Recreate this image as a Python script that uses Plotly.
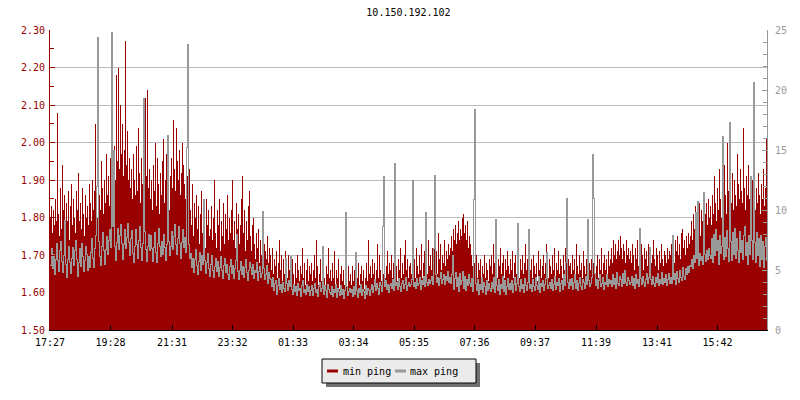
import pandas as pd
import plotly.graph_objects as go

title_text = "10.150.192.102"
series_names = ["min ping", "max ping"]
series_colors = ["#990000", "#999999"]

start_time = "2024-05-01 17:27"
sample_minutes = 2

# min ping (ms, left axis), one value per 2 minutes
min_ping = [
    1.80, 1.83, 1.76, 1.82, 1.78, 1.85, 1.79, 2.08, 1.81, 1.75, 1.88, 1.77, 1.94, 1.82, 1.86, 1.76, 1.84, 1.79, 1.87, 1.74,
    1.83, 1.89, 1.78, 1.85, 1.80, 1.76, 1.87, 1.82, 1.92, 1.79, 1.84, 1.77, 1.88, 1.81, 1.75, 1.86, 1.80, 1.83, 1.78, 1.89,
    1.84, 1.79, 1.90, 1.82, 1.87, 2.05, 1.85, 1.80, 1.93, 1.86, 1.82, 1.95, 1.88, 1.81, 1.90, 1.84, 1.97, 1.86, 1.91, 1.83,
    1.96, 1.89, 2.02, 1.92, 1.99, 1.90, 2.18, 1.95, 2.20, 1.93, 2.10, 1.97, 2.05, 1.91, 1.98, 2.27, 1.94, 2.03, 1.90, 1.96,
    1.88, 1.93, 1.85, 1.97, 1.90, 1.86, 1.99, 1.87, 2.04, 1.92, 1.84, 1.96, 1.89, 1.94, 1.86, 2.12, 1.91, 2.14, 1.88, 1.93,
    1.85, 1.90, 1.82, 1.94, 1.87, 2.00, 1.83, 1.96, 1.89, 1.81, 1.92, 1.86, 1.95, 2.01, 1.84, 1.90, 1.97, 1.85, 1.88, 1.82,
    1.91, 1.96, 1.88, 2.06, 1.93, 1.87, 2.04, 1.95, 1.90, 1.98, 1.86, 1.92, 2.00, 1.94, 1.89, 1.85, 1.97, 1.91, 1.86, 1.93,
    1.82, 1.78, 1.89, 1.75, 1.84, 1.80, 1.86, 1.77, 1.83, 1.73, 1.81, 1.87, 1.76, 1.84, 1.79, 1.72, 1.85, 1.78, 1.82, 1.75,
    1.77, 1.83, 1.74, 1.80, 1.90, 1.76, 1.72, 1.82, 1.78, 1.85, 1.71, 1.79, 1.75, 1.84, 1.73, 1.81, 1.77, 1.86, 1.74, 1.80,
    1.76, 1.82, 1.90, 1.74, 1.79, 1.72, 1.84, 1.77, 1.81, 1.73, 1.78, 1.85, 1.91, 1.76, 1.82, 1.71, 1.79, 1.74, 1.83, 1.87,
    1.75, 1.71, 1.78, 1.80, 1.73, 1.69, 1.76, 1.72, 1.77, 1.68, 1.74, 1.70, 1.76, 1.67, 1.73, 1.71, 1.69, 1.75, 1.68, 1.72,
    1.70, 1.66, 1.72, 1.65, 1.69, 1.67, 1.71, 1.64, 1.68, 1.74, 1.66, 1.70, 1.63, 1.69, 1.65, 1.71, 1.67, 1.64, 1.70, 1.66,
    1.67, 1.63, 1.69, 1.65, 1.62, 1.68, 1.64, 1.70, 1.66, 1.63, 1.67, 1.65, 1.72, 1.64, 1.68, 1.62, 1.66, 1.69, 1.63, 1.67,
    1.65, 1.68, 1.63, 1.66, 1.70, 1.64, 1.74, 1.67, 1.62, 1.65, 1.69, 1.63, 1.66, 1.68, 1.64, 1.62, 1.67, 1.65, 1.72, 1.64,
    1.66, 1.63, 1.68, 1.64, 1.71, 1.62, 1.66, 1.64, 1.69, 1.61, 1.65, 1.67, 1.63, 1.66, 1.62, 1.68, 1.64, 1.61, 1.67, 1.63,
    1.65, 1.62, 1.67, 1.63, 1.66, 1.70, 1.61, 1.64, 1.68, 1.62, 1.65, 1.67, 1.63, 1.66, 1.61, 1.64, 1.68, 1.63, 1.74, 1.65,
    1.67, 1.64, 1.69, 1.65, 1.68, 1.63, 1.66, 1.73, 1.64, 1.70, 1.66, 1.63, 1.68, 1.65, 1.69, 1.64, 1.67, 1.71, 1.65, 1.68,
    1.66, 1.70, 1.64, 1.68, 1.65, 1.71, 1.67, 1.63, 1.69, 1.66, 1.72, 1.64, 1.68, 1.65, 1.70, 1.74, 1.66, 1.69, 1.64, 1.67,
    1.68, 1.65, 1.71, 1.66, 1.69, 1.64, 1.72, 1.67, 1.65, 1.70, 1.66, 1.73, 1.64, 1.68, 1.71, 1.66, 1.69, 1.65, 1.74, 1.67,
    1.70, 1.66, 1.72, 1.68, 1.75, 1.67, 1.71, 1.65, 1.76, 1.69, 1.73, 1.66, 1.70, 1.68, 1.74, 1.67, 1.71, 1.69, 1.73, 1.70,
    1.72, 1.75, 1.71, 1.77, 1.74, 1.78, 1.73, 1.76, 1.79, 1.74, 1.77, 1.75, 1.80, 1.81, 1.76, 1.78, 1.74, 1.79, 1.72, 1.75,
    1.73, 1.70, 1.67, 1.74, 1.68, 1.65, 1.70, 1.64, 1.68, 1.66, 1.69, 1.63, 1.67, 1.65, 1.70, 1.64, 1.68, 1.66, 1.63, 1.69,
    1.67, 1.70, 1.65, 1.73, 1.68, 1.66, 1.71, 1.64, 1.69, 1.67, 1.72, 1.65, 1.68, 1.70, 1.64, 1.69, 1.66, 1.71, 1.67, 1.65,
    1.69, 1.66, 1.71, 1.64, 1.68, 1.70, 1.65, 1.72, 1.67, 1.64, 1.69, 1.66, 1.70, 1.65, 1.68, 1.73, 1.66, 1.69, 1.64, 1.67,
    1.66, 1.69, 1.64, 1.70, 1.67, 1.65, 1.68, 1.63, 1.71, 1.66, 1.69, 1.64, 1.67, 1.70, 1.65, 1.68, 1.73, 1.66, 1.64, 1.69,
    1.67, 1.65, 1.70, 1.66, 1.72, 1.64, 1.68, 1.66, 1.71, 1.65, 1.69, 1.67, 1.64, 1.70, 1.66, 1.72, 1.68, 1.65, 1.69, 1.67,
    1.68, 1.65, 1.70, 1.66, 1.69, 1.64, 1.73, 1.67, 1.65, 1.70, 1.66, 1.68, 1.64, 1.71, 1.67, 1.65, 1.69, 1.66, 1.70, 1.68,
    1.66, 1.69, 1.64, 1.68, 1.71, 1.65, 1.67, 1.70, 1.64, 1.69, 1.66, 1.72, 1.65, 1.68, 1.70, 1.66, 1.69, 1.65, 1.71, 1.67,
    1.69, 1.72, 1.68, 1.74, 1.70, 1.73, 1.69, 1.71, 1.74, 1.70, 1.75, 1.72, 1.69, 1.73, 1.71, 1.68, 1.74, 1.70, 1.72, 1.69,
    1.71, 1.68, 1.73, 1.70, 1.66, 1.72, 1.69, 1.74, 1.67, 1.71, 1.68, 1.73, 1.70, 1.66, 1.72, 1.69, 1.71, 1.67, 1.73, 1.70,
    1.72, 1.68, 1.70, 1.74, 1.69, 1.67, 1.72, 1.70, 1.66, 1.71, 1.68, 1.73, 1.69, 1.67, 1.71, 1.70, 1.68, 1.72, 1.69, 1.71,
    1.70, 1.73, 1.69, 1.72, 1.68, 1.74, 1.71, 1.75, 1.70, 1.73, 1.69, 1.76, 1.77, 1.72, 1.74, 1.70, 1.75, 1.72, 1.76, 1.73,
    1.75, 1.79, 1.74, 1.81, 1.77, 1.83, 1.76, 1.80, 1.78, 1.84, 1.75, 1.82, 1.79, 1.86, 1.77, 1.81, 1.84, 1.78, 1.85, 1.80,
    1.83, 1.78, 1.86, 1.81, 1.91, 1.84, 1.79, 1.88, 1.82, 1.93, 1.85, 1.80, 1.89, 1.84, 1.94, 1.86, 1.81, 2.00, 1.87, 1.83,
    1.88, 1.84, 1.92, 1.82, 1.90, 1.86, 1.83, 1.97, 1.89, 1.85, 1.93, 1.87, 1.84, 2.04, 1.88, 1.82, 1.91, 1.86, 1.94, 1.85,
    1.87, 1.83, 1.90, 1.85, 1.99, 1.82, 1.88, 1.84, 1.92, 1.86, 1.81, 1.89, 1.85, 1.93, 1.83, 1.88, 2.01, 1.86,
]

# max ping (ms, right axis), one value per 2 minutes
max_ping = [
    5.4, 6.8, 5.1, 6.3, 4.6, 5.9, 7.2, 5.8, 4.9, 6.6, 7.4, 5.7, 4.8, 6.2, 9.1, 5.5, 4.4, 5.9, 7.0, 5.6,
    4.7, 6.0, 6.9, 5.4, 6.6, 7.5, 5.9, 4.5, 5.6, 6.8, 5.3, 7.2, 6.1, 4.9, 5.8, 7.0, 6.3, 5.0, 6.1, 5.2,
    6.5, 7.6, 6.0, 5.2, 6.8, 7.9, 12.0, 24.4, 7.4, 6.1, 5.4, 7.0, 8.1, 6.6, 5.5, 6.7, 7.8, 6.3, 7.5, 8.4,
    6.9, 24.8, 8.6, 15.0, 7.0, 5.8, 7.3, 8.5, 6.7, 7.9, 8.8, 7.2, 5.9, 7.1, 8.4, 6.8, 7.7, 8.9, 7.3, 6.2,
    7.6, 8.3, 6.4, 5.6, 7.0, 8.4, 7.1, 6.0, 7.5, 8.6, 6.9, 5.8, 7.2, 19.3, 8.2, 6.7, 5.7, 7.0, 8.0, 6.6,
    7.9, 6.8, 5.7, 6.9, 8.1, 6.5, 5.6, 7.2, 8.5, 7.0, 6.1, 7.4, 6.3, 8.0, 6.9, 5.8, 7.1, 16.2, 7.4, 6.2,
    7.0, 8.2, 6.7, 7.8, 8.8, 7.1, 6.3, 7.6, 8.6, 7.2, 6.0, 7.3, 8.4, 6.9, 7.7, 6.5, 15.2, 23.8, 7.1, 6.0,
    6.4, 5.2, 6.0, 4.8, 5.9, 6.7, 5.4, 4.6, 5.7, 6.5, 5.0, 6.2, 5.5, 10.9, 5.8, 4.7, 5.6, 6.4, 5.1, 4.5,
    5.5, 6.2, 5.0, 4.4, 5.3, 6.0, 4.9, 5.7, 4.5, 5.2, 6.1, 5.0, 4.3, 5.4, 6.0, 4.8, 5.5, 4.6, 4.2, 5.3,
    5.9, 4.7, 5.4, 4.3, 5.1, 5.8, 8.0, 4.9, 4.2, 5.0, 5.7, 4.6, 5.3, 4.4, 5.2, 5.9, 4.8, 4.1, 5.0, 5.6,
    5.2, 4.6, 5.5, 4.3, 5.0, 4.8, 5.6, 4.1, 4.9, 5.3, 4.4, 4.7, 9.9, 5.1, 4.2, 4.6, 5.4, 3.9, 4.8, 4.3,
    4.2, 3.6, 4.4, 3.3, 3.9, 4.1, 3.0, 3.7, 4.3, 3.4, 3.8, 3.1, 4.0, 3.5, 3.2, 6.0, 3.9, 3.3, 4.1, 3.6,
    6.1, 3.4, 3.0, 3.8, 3.2, 3.6, 2.9, 3.9, 3.3, 3.5, 2.8, 3.7, 4.1, 3.1, 3.4, 3.0, 3.8, 3.2, 3.6, 2.9,
    3.3, 3.7, 2.9, 3.5, 3.9, 3.1, 3.4, 2.8, 3.6, 4.0, 3.2, 3.5, 7.0, 3.0, 3.7, 3.3, 2.7, 3.8, 3.4, 3.1,
    3.0, 3.6, 2.8, 3.4, 3.1, 3.8, 2.7, 3.5, 3.2, 2.9, 3.7, 3.0, 3.4, 2.6, 3.3, 9.8, 3.6, 2.9, 3.2, 3.5,
    3.1, 3.4, 2.8, 3.6, 3.0, 6.5, 3.3, 2.7, 3.5, 3.1, 3.8, 2.9, 3.4, 3.2, 2.6, 3.7, 3.0, 3.5, 3.3, 2.9,
    3.4, 3.8, 3.1, 3.6, 4.2, 3.3, 3.9, 3.5, 3.0, 4.0, 3.7, 3.2, 8.6, 12.8, 3.6, 4.1, 3.4, 3.8, 3.1, 3.7,
    3.9, 3.5, 4.2, 3.3, 13.9, 3.7, 4.0, 3.4, 4.3, 3.6, 3.2, 3.9, 4.1, 3.5, 3.8, 4.4, 3.3, 3.7, 4.0, 3.6,
    3.8, 4.2, 12.5, 3.6, 4.0, 3.5, 4.3, 3.7, 3.9, 4.4, 3.4, 4.1, 3.8, 4.5, 3.6, 9.8, 4.0, 3.7, 4.2, 3.9,
    4.1, 4.5, 3.8, 6.8, 12.9, 4.6, 4.0, 4.4, 3.7, 4.3, 4.8, 3.9, 4.2, 4.6, 3.8, 4.5, 4.1, 4.9, 4.0, 4.4,
    3.9, 4.6, 6.2, 3.4, 4.3, 4.8, 3.6, 4.4, 3.2, 4.7, 3.8, 4.1, 4.9, 3.5, 4.5, 3.3, 4.2, 3.7, 4.6, 3.9,
    3.6, 4.3, 3.2, 10.9, 18.4, 3.9, 3.3, 4.2, 3.0, 3.8, 3.4, 4.4, 3.1, 4.0, 3.6, 3.0, 4.1, 3.3, 3.9, 3.5,
    3.2, 4.0, 3.5, 4.4, 3.1, 9.2, 3.7, 3.3, 4.2, 3.0, 3.8, 3.5, 4.5, 3.2, 4.1, 3.0, 3.6, 4.3, 3.4, 3.9,
    3.4, 4.1, 3.1, 3.8, 4.4, 3.3, 3.9, 8.9, 3.6, 3.2, 4.2, 3.5, 3.8, 3.1, 4.3, 3.7, 3.3, 4.0, 8.4, 3.5,
    3.8, 3.2, 4.2, 3.6, 3.3, 4.4, 3.7, 3.4, 4.5, 3.1, 3.9, 3.6, 4.1, 3.3, 3.8, 4.3, 6.5, 3.5, 3.7, 4.0,
    3.5, 4.2, 3.3, 3.8, 4.5, 3.4, 4.0, 3.7, 4.3, 3.2, 3.9, 4.1, 3.4, 4.6, 3.7, 5.6, 11.0, 4.0, 3.5, 4.2,
    3.7, 4.3, 3.4, 4.0, 4.6, 3.5, 4.1, 3.3, 3.9, 4.4, 3.6, 3.4, 4.2, 4.0, 3.5, 4.5, 3.8, 9.2, 4.1, 3.6,
    3.9, 4.4, 14.6, 11.0, 4.7, 3.7, 4.2, 3.5, 4.1, 4.6, 3.6, 3.9, 4.4, 3.4, 4.0, 3.8, 4.6, 3.6, 4.2, 3.9,
    4.1, 3.6, 4.6, 3.8, 4.3, 3.5, 4.8, 3.9, 3.7, 4.5, 4.2, 3.6, 4.7, 3.9, 5.0, 4.0, 3.7, 4.4, 4.1, 3.8,
    4.0, 4.5, 3.7, 4.3, 3.5, 4.6, 3.9, 4.2, 3.6, 8.5, 4.3, 3.8, 4.5, 4.0, 3.6, 4.2, 4.7, 3.9, 4.4, 6.9,
    4.2, 3.8, 4.5, 3.9, 3.6, 4.4, 4.0, 4.7, 3.7, 4.2, 3.9, 4.8, 3.8, 4.3, 4.0, 4.6, 3.7, 4.2, 4.7, 3.9,
    4.4, 3.9, 7.9, 4.2, 4.7, 3.8, 4.9, 4.3, 4.0, 5.0, 4.4, 4.1, 5.2, 4.5, 4.2, 5.1, 4.6, 5.3, 4.8, 5.4,
    5.3, 5.9, 5.1, 6.2, 5.6, 9.8, 6.0, 10.7, 5.4, 6.4, 5.8, 6.1, 5.5, 11.5, 6.3, 5.7, 6.6, 5.9, 6.8, 6.2,
    6.0, 7.6, 5.6, 8.0, 6.2, 8.4, 6.6, 7.5, 5.5, 7.9, 6.4, 7.0, 16.1, 5.9, 7.7, 6.1, 8.3, 6.8, 5.7, 17.3,
    7.4, 5.8, 8.1, 6.3, 8.5, 6.0, 7.6, 6.6, 5.6, 8.2, 6.5, 7.5, 5.9, 7.9, 8.6, 6.2, 7.3, 5.5, 7.9, 6.3,
    12.8, 7.5, 5.9, 20.6, 7.3, 5.6, 8.1, 6.2, 7.6, 5.3, 7.9, 5.9, 7.4, 5.2, 7.0, 7.7, 5.8, 7.3,
]

x_tick_times = [
    "2024-05-01 17:27", "2024-05-01 19:28", "2024-05-01 21:31", "2024-05-01 23:32",
    "2024-05-02 01:33", "2024-05-02 03:34", "2024-05-02 05:35", "2024-05-02 07:36",
    "2024-05-02 09:37", "2024-05-02 11:39", "2024-05-02 13:41", "2024-05-02 15:42",
]
x_tick_labels = ["17:27", "19:28", "21:31", "23:32", "01:33", "03:34",
                 "05:35", "07:36", "09:37", "11:39", "13:41", "15:42"]
x_range = ["2024-05-01 17:27", "2024-05-02 17:21"]

left_tick_vals = [1.5, 1.6, 1.7, 1.8, 1.9, 2.0, 2.1, 2.2, 2.3]
left_tick_labels = ["1.50", "1.60", "1.70", "1.80", "1.90", "2.00", "2.10", "2.20", "2.30"]
right_tick_vals = [0, 5, 10, 15, 20, 25]
right_tick_labels = ["0", "5", "10", "15", "20", "25"]

n = min(len(min_ping), len(max_ping))
times = pd.date_range(start_time, periods=n, freq=f"{sample_minutes}min")

FONT = "DejaVu Sans Mono"
fig = go.Figure()
fig.add_trace(go.Scatter(
    x=times, y=min_ping[:n], name=series_names[0], mode="lines",
    line=dict(shape="hv", width=0, color=series_colors[0]),
    fill="tozeroy", fillcolor=series_colors[0], yaxis="y", showlegend=False,
    hoverinfo="skip",
))
fig.add_trace(go.Scatter(
    x=times, y=max_ping[:n], name=series_names[1], mode="lines",
    line=dict(shape="hv", width=1, color=series_colors[1]),
    yaxis="y2", showlegend=False, hoverinfo="skip",
))

L, R, T, B = 50, 33, 30, 70
W, H = 800, 400
PW, PH = W - L - R, H - T - B


def px_x(p):
    return (p - L) / PW


def px_y(p):
    return (H - B - p) / PH


fig.update_layout(
    width=W, height=H,
    margin=dict(l=L, r=R, t=T, b=B, pad=0),
    paper_bgcolor="white", plot_bgcolor="white",
    showlegend=False, hovermode=False,
    font=dict(family=FONT, size=10, color="black"),
    title=dict(text=title_text, x=0.5, xref="paper", xanchor="center",
               y=1 - 12 / H, yref="container", yanchor="middle",
               font=dict(family=FONT, size=10, color="black")),
    xaxis=dict(
        type="date", range=x_range,
        tickmode="array", tickvals=x_tick_times, ticktext=x_tick_labels,
        ticks="inside", ticklen=5, tickcolor="black", tickwidth=1,
        showline=True, linecolor="black", linewidth=1,
        showgrid=False, zeroline=False, ticklabelstandoff=3,
        tickfont=dict(family=FONT, size=10, color="black"),
    ),
    yaxis=dict(
        range=[1.5, 2.3], tickmode="array",
        tickvals=left_tick_vals, ticktext=left_tick_labels,
        ticks="inside", ticklen=5, tickcolor=series_colors[0], tickwidth=1,
        showline=True, linecolor=series_colors[0], linewidth=1,
        showgrid=True, gridcolor="#bbbbbb", gridwidth=1, zeroline=False,
        ticklabelstandoff=2,
        tickfont=dict(family=FONT, size=10, color=series_colors[0]),
        minor=dict(tickmode="linear", tick0=1.5, dtick=0.05, ticks="inside",
                   ticklen=4, tickcolor=series_colors[0], showgrid=False),
    ),
    yaxis2=dict(
        range=[0, 25], overlaying="y", side="right", tickmode="array",
        tickvals=right_tick_vals, ticktext=right_tick_labels,
        ticks="inside", ticklen=5, tickcolor=series_colors[1], tickwidth=1,
        showline=True, linecolor=series_colors[1], linewidth=1,
        showgrid=False, zeroline=False, ticklabelstandoff=5,
        tickfont=dict(family=FONT, size=10, color=series_colors[1]),
        minor=dict(tickmode="linear", tick0=0, dtick=1, ticks="inside",
                   ticklen=4, tickcolor=series_colors[1], showgrid=False),
    ),
)

# legend drawn as a boxed key with shadow
fig.add_shape(type="rect", xref="paper", yref="paper",
              x0=px_x(326), x1=px_x(480), y0=px_y(387), y1=px_y(363),
              fillcolor="#707070", line=dict(width=0))
fig.add_shape(type="rect", xref="paper", yref="paper",
              x0=px_x(322), x1=px_x(476), y0=px_y(383), y1=px_y(359),
              fillcolor="#ebebeb", line=dict(color="black", width=1))
legend_items = [(327, 342), (395, 409)]
for (lx, tx), name, color in zip(legend_items, series_names, series_colors):
    fig.add_shape(type="line", xref="paper", yref="paper",
                  x0=px_x(lx), x1=px_x(lx + 11), y0=px_y(371), y1=px_y(371),
                  line=dict(color=color, width=3))
    fig.add_annotation(text=name, xref="paper", yref="paper",
                       x=px_x(tx), y=px_y(371), xanchor="left", yanchor="middle",
                       showarrow=False, borderpad=0,
                       font=dict(family=FONT, size=10, color="black"))

post = (
    "document.body.style.margin='0';"
    "document.body.style.overflow='hidden';"
    "var st=document.createElement('style');"
    "st.textContent='.scatterlayer path{shape-rendering:crispEdges !important;}';"
    "document.head.appendChild(st);"
)
fig.write_html("out.html", config={"displayModeBar": False}, post_script=post)
